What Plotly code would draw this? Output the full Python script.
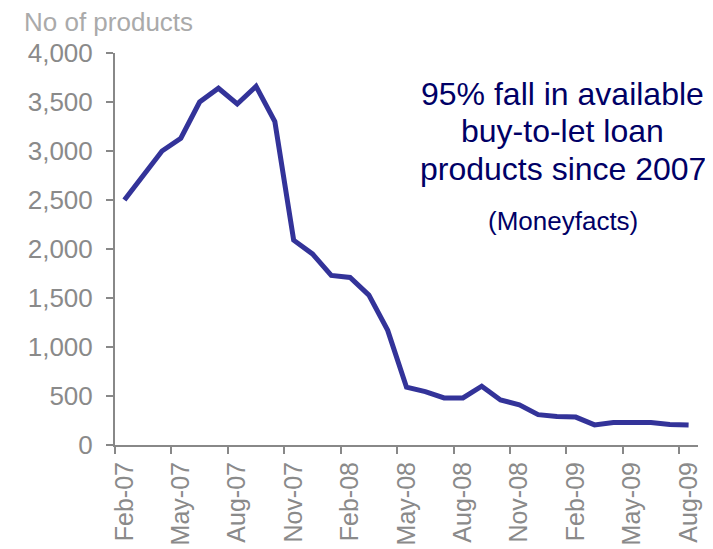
import plotly.graph_objects as go

months = ["Feb-07", "Mar-07", "Apr-07", "May-07", "Jun-07", "Jul-07", "Aug-07", "Sep-07",
          "Oct-07", "Nov-07", "Dec-07", "Jan-08", "Feb-08", "Mar-08", "Apr-08", "May-08",
          "Jun-08", "Jul-08", "Aug-08", "Sep-08", "Oct-08", "Nov-08", "Dec-08", "Jan-09",
          "Feb-09", "Mar-09", "Apr-09", "May-09", "Jun-09", "Jul-09", "Aug-09"]
products = [2500, 2750, 3000, 3130, 3500, 3640, 3480, 3660, 3300, 2090, 1950, 1730,
            1710, 1530, 1170, 590, 545, 480, 480, 600, 460, 410, 310, 290,
            285, 205, 230, 230, 230, 210, 205]
y_ticks = [0, 500, 1000, 1500, 2000, 2500, 3000, 3500, 4000]
headline = ["95% fall in available", "buy-to-let loan", "products since 2007"]
source = "(Moneyfacts)"

FONT = "Liberation Sans, Arial, sans-serif"
GREY = "#8a8a8a"
NAVY = "#000066"

fig = go.Figure()
fig.add_trace(go.Scatter(x=months, y=products, mode="lines",
                         line=dict(color="#333399", width=5)))

annotations = [
    dict(text="No of products", xref="paper", yref="paper",
         x=-0.1595, y=1.0785, xanchor="left", yanchor="middle",
         showarrow=False, font=dict(size=26, color="#aaaaaa", family=FONT)),
]
for line, yp in zip(headline, [0.8957, 0.8013, 0.7033]):
    annotations.append(dict(text=line, xref="paper", yref="paper", x=0.7684, y=yp,
                            xanchor="center", yanchor="middle", showarrow=False,
                            font=dict(size=32, color=NAVY, family=FONT)))
annotations.append(dict(text=source, xref="paper", yref="paper", x=0.7684, y=0.5706,
                        xanchor="center", yanchor="middle", showarrow=False,
                        font=dict(size=26, color=NAVY, family=FONT)))

fig.update_layout(
    width=713, height=549,
    margin=dict(l=107, r=23, t=45, b=109),
    paper_bgcolor="white", plot_bgcolor="white",
    showlegend=False,
    font=dict(family=FONT, color=GREY, size=24),
    xaxis=dict(type="category", range=[-0.5, len(months) - 0.5],
               tickmode="linear", tick0=0, dtick=3, tickson="boundaries",
               ticks="outside", ticklen=7, tickcolor="#888888", tickwidth=2,
               showline=True, linecolor="#888888", linewidth=2,
               showgrid=False, tickangle=-90, ticklabelstandoff=5,
               tickfont=dict(size=25, color=GREY, family=FONT)),
    yaxis=dict(range=[0, 4000], tickvals=y_ticks,
               ticktext=[f"{v:,}" for v in y_ticks],
               ticks="outside", ticklen=7, tickcolor="#888888", tickwidth=2,
               showline=True, linecolor="#888888", linewidth=2,
               showgrid=False, zeroline=False, ticklabelstandoff=8,
               tickfont=dict(size=26, color=GREY, family=FONT)),
    annotations=annotations,
)

fig.write_html("out.html")
